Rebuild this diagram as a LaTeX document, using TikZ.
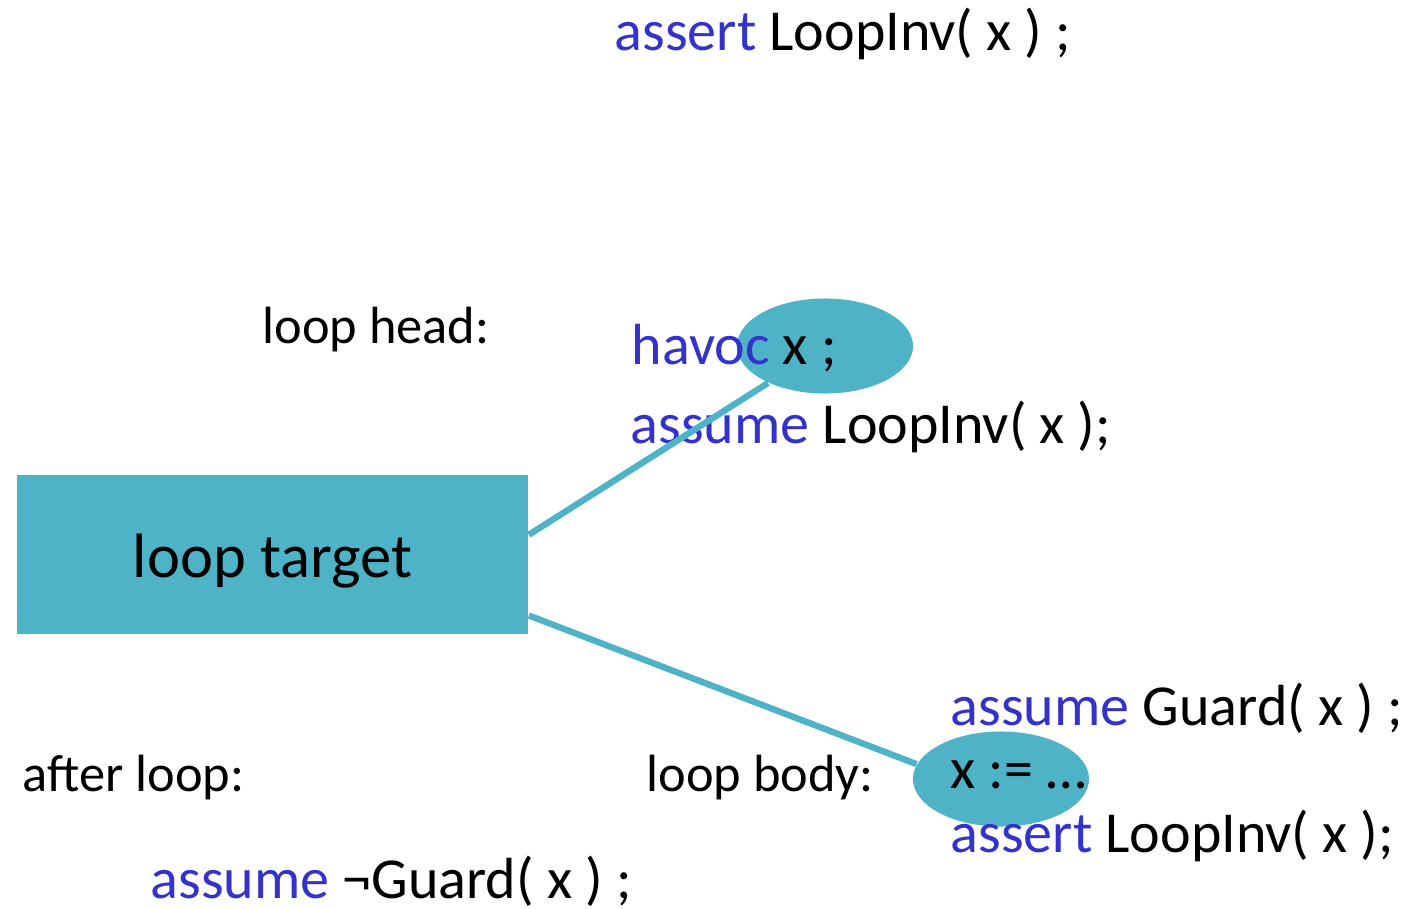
\documentclass[tikz,border=0pt]{standalone}
\usepackage{fontspec}
\setmainfont{Carlito}
\usetikzlibrary{shapes.geometric,calc}
\definecolor{tealfill}{RGB}{79,179,200}
\definecolor{kw}{RGB}{51,51,204}
\begin{document}
\begin{tikzpicture}[x=0.01cm,y=-0.01cm,
  txt/.style={anchor=base west,inner sep=0pt,font=\fontsize{16.5}{20}\selectfont},
  lbl/.style={anchor=base west,inner sep=0pt,font=\fontsize{14.9}{18}\selectfont},
  blob/.style={ellipse,fill=tealfill,draw=none,inner sep=0pt,minimum width=1.76cm,minimum height=0.95cm},
  link/.style={draw=tealfill,line width=1.8pt}]
\useasboundingbox (0,0) rectangle (1405,908);

% loop target box and the two ellipses
\node[fill=tealfill,inner sep=0pt,minimum width=5.11cm,minimum height=1.59cm,
      text height=12.8pt,text depth=0pt,
      font=\fontsize{17.8}{21}\selectfont] (lt) at (272.5,554.5) {loop target};
\node[blob] (e1) at (825,346) {};
\node[blob] (e2) at (1001,779) {};

% code fragments
\node[txt] (pre) at (614,50) {\textcolor{kw}{assert} LoopInv( x ) ;};
\node[lbl] (lh) at (262,343) {loop head:};
\node[txt] (hv) at (631,364) {\textcolor{kw}{havoc} x ;};
\node[txt] (as) at (630,443) {\textcolor{kw}{assume} LoopInv( x );};
\node[txt] (ag) at (950,725) {\textcolor{kw}{assume} Guard( x ) ;};
\node[txt] (xa) at (950,788) {x := …};
\node[txt] (al) at (950,852) {\textcolor{kw}{assert} LoopInv( x );};
\node[lbl] (lb) at (646,791) {loop body:};
\node[lbl] (af) at (22,791) {after loop:};
\node[txt] (ng) at (150,898) {\textcolor{kw}{assume} ¬Guard( x ) ;};

% connectors from the box to the ellipses
\draw[link] ($(lt.north east)!0.377!(lt.south east)$) -- (e1.213);
\draw[link] ($(lt.north east)!0.88!(lt.south east)$) -- (e2.170);
\end{tikzpicture}
\end{document}
